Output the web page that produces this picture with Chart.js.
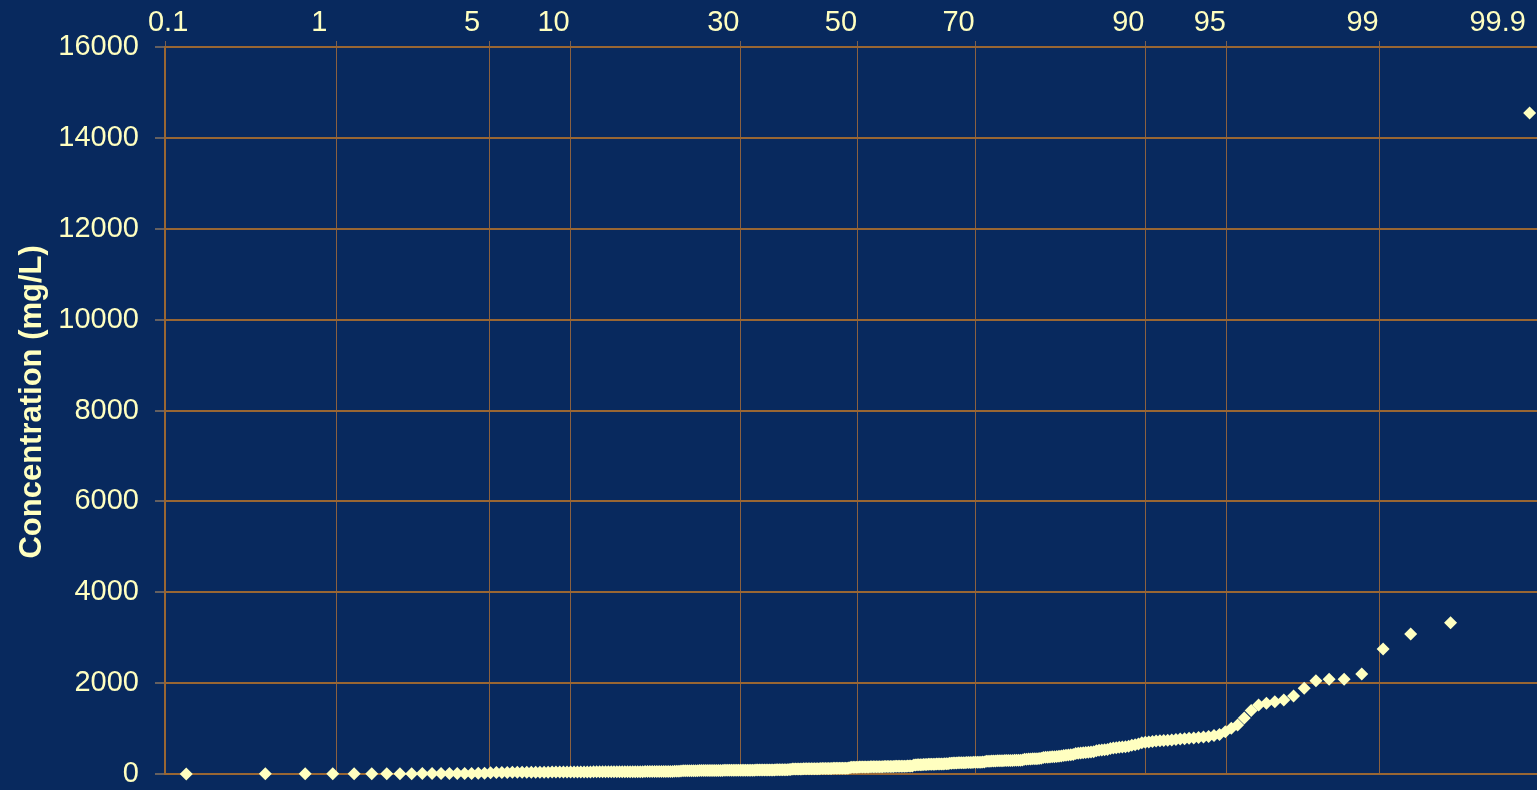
<!DOCTYPE html>
<html>
<head>
<meta charset="utf-8">
<script src="https://cdn.jsdelivr.net/npm/chart.js@4.4.1/dist/chart.umd.min.js"></script>
<style>
  html, body { margin: 0; padding: 0; background: #08295e; overflow: hidden; }
  #wrap { width: 1608px; height: 790px; }
</style>
</head>
<body>
<div id="wrap"><canvas id="probPlot" width="1608" height="790"></canvas></div>
<script>
// cumulative probability (%) shown on the top axis
const probLabels = [0.1, 1, 5, 10, 30, 50, 70, 90, 95, 99, 99.9];

// sorted concentrations (mg/L), one per sample
const concentration = [
  2, 3, 4, 5, 5, 6, 7, 8, 8, 9, 10, 10, 11, 12, 12, 13, 14, 15,
  30, 32, 34, 35, 36, 38, 38, 40, 40, 40,
  40, 40, 41, 42, 42, 43, 44, 44, 45, 45,
  45, 45, 45, 46, 46, 47, 47, 48, 48, 48,
  48, 49, 49, 50, 50, 50, 50, 50, 50, 51,
  51, 52, 52, 52, 53, 53, 54, 54, 55, 55,
  55, 55, 55, 56, 56, 57, 57, 58, 58, 60,
  68, 70, 70, 71, 72, 72, 73, 74, 74, 75,
  75, 75, 75, 76, 76, 77, 77, 78, 78, 78,
  79, 79, 80, 80, 80, 80, 80, 81, 81, 82,
  82, 82, 83, 83, 84, 84, 85, 85, 85, 85,
  86, 86, 87, 87, 88, 88, 89, 89, 90, 90,
  90, 90, 91, 92, 92, 93, 94, 94, 95, 96,
  97, 98,
  108, 109, 110, 110, 111, 112, 112, 113, 114, 114,
  115, 115, 116, 116, 117, 117, 118, 118, 119, 120,
  120, 120, 121, 122, 122, 123, 124, 124, 125, 125,
  126, 126, 127, 128, 128, 129, 130,
  145, 147, 148, 150, 150, 151, 152, 153, 154, 155,
  155, 155, 156, 157, 158, 158, 159, 160, 160, 160,
  161, 162, 163, 163, 164, 165, 165, 166, 167, 168,
  168, 169, 170, 170, 171, 172, 173, 174, 175, 175, 176,
  198, 200, 202, 204, 205, 206, 208, 210, 210, 212, 213,
  214, 215, 216, 218, 219, 220, 221, 222, 224, 225, 226,
  236, 238, 240, 242, 244, 245, 246, 248, 249, 250, 251,
  252, 253, 255, 256, 257, 258, 260, 261, 262, 264,
  278, 280, 282, 284, 286, 288, 290, 291, 292, 294,
  295, 296, 297, 298, 299, 300, 301, 302, 304, 306,
  322, 325, 328, 330, 333, 335, 338, 341, 345,
  362, 366, 370, 374, 378, 382, 386, 390, 395,
  408, 413, 418, 424, 430,
  452, 458, 463, 468, 473, 478, 484, 490,
  512, 520, 527, 533, 540,
  562, 572, 580, 588, 594, 600, 610,
  632, 645, 658,
  688, 698, 706, 714, 724,
  734, 740, 745, 751, 758,
  768, 776, 785, 795, 803, 812, 825, 847, 870, 930,
  1005, 1078, 1230, 1400, 1518, 1555, 1590, 1628, 1716, 1885,
  2053, 2083, 2083, 2200, 2750, 3081, 3330, 14550
];

// inverse standard normal (Acklam)
function probit(p) {
  const a = [-39.69683028665376, 220.9460984245205, -275.9285104469687, 138.3577518672690, -30.66479806614716, 2.506628277459239];
  const b = [-54.47609879822406, 161.5858368580409, -155.6989798598866, 66.80131188771972, -13.28068155288572];
  const c = [-0.007784894002430293, -0.3223964580411365, -2.400758277161838, -2.549732539343734, 4.374664141464968, 2.938163982698783];
  const d = [0.007784695709041462, 0.3224671290700398, 2.445134137142996, 3.754408661907416];
  const lo = 0.02425;
  let q, r;
  if (p < lo) {
    q = Math.sqrt(-2 * Math.log(p));
    return (((((c[0]*q+c[1])*q+c[2])*q+c[3])*q+c[4])*q+c[5]) / ((((d[0]*q+d[1])*q+d[2])*q+d[3])*q+1);
  }
  if (p > 1 - lo) {
    q = Math.sqrt(-2 * Math.log(1 - p));
    return -(((((c[0]*q+c[1])*q+c[2])*q+c[3])*q+c[4])*q+c[5]) / ((((d[0]*q+d[1])*q+d[2])*q+d[3])*q+1);
  }
  q = p - 0.5; r = q * q;
  return (((((a[0]*r+a[1])*r+a[2])*r+a[3])*r+a[4])*r+a[5])*q / (((((b[0]*r+b[1])*r+b[2])*r+b[3])*r+b[4])*r+1);
}

const n = concentration.length;
// Hazen plotting position for rank i
const points = concentration.map((v, i) => ({ x: probit((i + 0.5) / n), y: v }));

const txt = '#ffffc0';
const brown = '#996633';
const font = 'Arial, "Liberation Sans", sans-serif';

new Chart(document.getElementById('probPlot'), {
  type: 'scatter',
  data: {
    datasets: [{
      data: points,
      pointStyle: 'rectRot',
      pointRadius: 6.5,
      pointHoverRadius: 6.5,
      pointBorderWidth: 0,
      backgroundColor: txt,
      borderColor: txt,
      clip: false
    }]
  },
  options: {
    responsive: false,
    animation: false,
    devicePixelRatio: 1,
    layout: { padding: { top: 0, left: 0, right: 0, bottom: 16 } },
    plugins: { legend: { display: false }, tooltip: { enabled: false } },
    scales: {
      x: {
        type: 'linear',
        position: 'top',
        min: probit(0.001),
        max: 3.316,
        afterBuildTicks: s => { s.ticks = probLabels.map(p => ({ value: probit(p / 100) })); },
        afterFit: s => { s.height = 47; s.paddingLeft = 0; s.paddingRight = 0; },
        grid: { color: '#8a6040', lineWidth: 1, tickLength: 6, tickColor: '#7a6050' },
        border: { display: false },
        ticks: {
          autoSkip: false,
          maxRotation: 0,
          padding: 1,
          labelOffset: -17,
          color: txt,
          font: { family: font, size: 29 },
          callback: (v, i) => {
            const p = probLabels[i];
            // the end labels sit inward of their gridlines in the original
            if (p === 0.1) return '     ' + p;
            if (p === 99.9) return p + '         ';
            return String(p);
          }
        }
      },
      y: {
        min: 0,
        max: 16000,
        afterFit: s => { s.width = 165; s.paddingTop = 0; s.paddingBottom = 0; },
        grid: { color: brown, lineWidth: 2, tickLength: 10, tickColor: '#666060' },
        border: { display: true, color: brown, width: 2 },
        ticks: {
          stepSize: 2000,
          padding: 16,
          color: txt,
          font: { family: font, size: 29 },
          callback: v => String(v)
        },
        title: {
          display: true,
          // two leading spaces nudge the rotated title up a little, as in the original
          text: '  Concentration (mg/L)',
          color: txt,
          padding: { top: 14, bottom: 0 },
          font: { family: font, size: 31, weight: 'bold' }
        }
      }
    }
  }
});
</script>
</body>
</html>
